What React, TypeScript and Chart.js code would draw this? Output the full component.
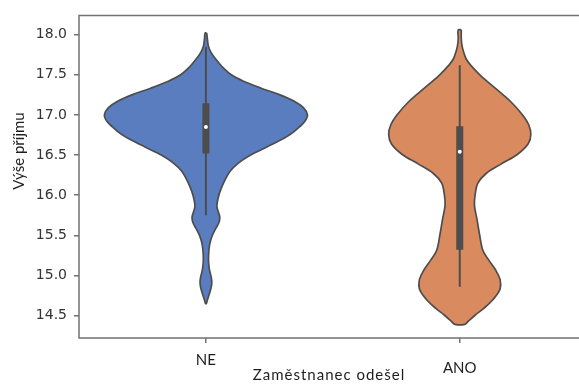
import { useEffect, useRef } from 'react';
import { Chart, registerables } from 'chart.js';

Chart.register(...registerables);

// Categories on the x axis (employee left: no / yes)
const categories = ['NE', 'ANO'];

// Income tick values on the y axis
const yTicks = [14.5, 15.0, 15.5, 16.0, 16.5, 17.0, 17.5, 18.0];

// Kernel density outline for "NE": income level and relative density (1 = widest)
const neLevels = [
  18.02, 17.95, 17.86, 17.78, 17.69, 17.6, 17.5, 17.42, 17.33, 17.25, 17.17, 17.09, 17.0,
  16.92, 16.85, 16.77, 16.69, 16.6, 16.5, 16.4, 16.3, 16.17, 16.05, 15.95, 15.86, 15.78,
  15.72, 15.65, 15.58, 15.49, 15.38, 15.27, 15.17, 15.07, 14.98, 14.92, 14.85, 14.77, 14.7,
  14.65,
];
const neDensity = [
  0.008, 0.014, 0.024, 0.05, 0.1, 0.16, 0.25, 0.37, 0.55, 0.73, 0.87, 0.96, 1.0,
  0.975, 0.92, 0.845, 0.74, 0.6, 0.44, 0.32, 0.24, 0.18, 0.14, 0.118, 0.108, 0.125,
  0.137, 0.125, 0.095, 0.06, 0.036, 0.027, 0.026, 0.035, 0.052, 0.058, 0.052, 0.034, 0.016,
  0.004,
];

// Kernel density outline for "ANO"
const anoLevels = [
  18.06, 17.95, 17.85, 17.78, 17.7, 17.62, 17.49, 17.33, 17.17, 17.0, 16.88, 16.76, 16.64,
  16.51, 16.39, 16.27, 16.15, 15.99, 15.87, 15.71, 15.51, 15.31, 15.19, 15.07, 14.95, 14.83,
  14.71, 14.59, 14.51, 14.43, 14.39,
];
const anoDensity = [
  0.015, 0.015, 0.024, 0.039, 0.062, 0.107, 0.205, 0.352, 0.498, 0.619, 0.678, 0.7, 0.674,
  0.57, 0.41, 0.26, 0.178, 0.15, 0.145, 0.168, 0.195, 0.228, 0.286, 0.352, 0.397, 0.397,
  0.335, 0.237, 0.156, 0.085, 0.049,
];

// Inner box statistics per category
const q1 = [16.52, 15.32];
const medians = [16.85, 16.54];
const q3 = [17.145, 16.86];
const whiskerLow = [15.75, 14.86];
const whiskerHigh = [17.85, 17.62];

const fillColors = ['#597DBF', '#D98B5F'];
const EDGE = '#4d4d4d';
const FRAME = '#727272';
const VIOLIN_WIDTH = 0.8;

function outline(pos: number, levels: number[], density: number[]) {
  const half = VIOLIN_WIDTH / 2;
  const right = levels.map((y, i) => ({ x: pos + half * density[i], y }));
  const left = levels.map((y, i) => ({ x: pos - half * density[i], y })).reverse();
  return [...right, ...left, right[0]];
}

const framePlugin = {
  id: 'frameAndLabels',
  afterDraw(chart: any) {
    const { ctx, chartArea, scales } = chart;
    const { left, top, bottom } = chartArea;
    const right = chart.width;
    ctx.save();
    ctx.strokeStyle = FRAME;
    ctx.lineWidth = 1.5;
    ctx.beginPath();
    ctx.moveTo(right, top);
    ctx.lineTo(left, top);
    ctx.lineTo(left, bottom);
    ctx.lineTo(right, bottom);
    ctx.stroke();

    ctx.fillStyle = '#1e1e1e';
    ctx.font = '15px Lato';
    ctx.textAlign = 'center';
    ctx.textBaseline = 'alphabetic';
    const baselines = [365, 372.5];
    categories.forEach((c, i) => {
      ctx.fillText(c, scales.x.getPixelForValue(i), baselines[i]);
    });
    ctx.letterSpacing = '1px';
    ctx.fillText('Zaměstnanec odešel', 329, 380);
    ctx.letterSpacing = '0px';

    ctx.translate(23.5, 151);
    ctx.rotate(-Math.PI / 2);
    ctx.fillText('Výše příjmu', 0, 0);
    ctx.restore();
  },
};

export default function App() {
  const canvasRef = useRef<HTMLCanvasElement>(null);

  useEffect(() => {
    const canvas = canvasRef.current;
    if (!canvas) return;

    const violins = [
      outline(0, neLevels, neDensity),
      outline(1, anoLevels, anoDensity),
    ];

    const datasets: any[] = [];
    violins.forEach((pts, i) => {
      datasets.push({
        label: categories[i],
        data: pts,
        showLine: true,
        fill: 'shape',
        backgroundColor: fillColors[i],
        borderColor: EDGE,
        borderWidth: 1.7,
        pointRadius: 0,
        tension: 0.35,
        order: 4,
      });
    });
    categories.forEach((_, i) => {
      datasets.push({
        data: [
          { x: i, y: whiskerLow[i] },
          { x: i, y: whiskerHigh[i] },
        ],
        showLine: true,
        borderColor: EDGE,
        borderWidth: 2,
        pointRadius: 0,
        order: 3,
      });
      datasets.push({
        data: [
          { x: i, y: q1[i] },
          { x: i, y: q3[i] },
        ],
        showLine: true,
        borderColor: EDGE,
        borderWidth: 7,
        borderCapStyle: 'butt',
        pointRadius: 0,
        order: 2,
      });
    });
    datasets.push({
      data: medians.map((y, i) => ({ x: i, y })),
      showLine: false,
      pointRadius: 2,
      pointBackgroundColor: '#ffffff',
      pointBorderWidth: 0,
      order: 1,
    });

    const chart = new Chart(canvas, {
      type: 'scatter',
      data: { datasets },
      options: {
        animation: false,
        responsive: false,
        events: [],
        layout: { padding: { top: 5, right: 0, bottom: 0, left: 0 } },
        plugins: { legend: { display: false }, tooltip: { enabled: false } },
        scales: {
          x: {
            type: 'linear',
            min: -0.5,
            max: 1.454,
            afterBuildTicks: (s: any) => {
              s.ticks = categories.map((_, i) => ({ value: i }));
            },
            afterFit: (s: any) => {
              s.height = 51;
            },
            ticks: { display: false },
            grid: {
              drawOnChartArea: false,
              drawTicks: true,
              tickLength: 5,
              color: FRAME,
              lineWidth: 1.5,
            },
            border: { display: false },
          },
          y: {
            type: 'linear',
            min: 14.22,
            max: 18.24,
            afterBuildTicks: (s: any) => {
              s.ticks = yTicks.map((v) => ({ value: v }));
            },
            afterFit: (s: any) => {
              s.width = 79;
            },
            ticks: {
              callback: (v: any) => Number(v).toFixed(1),
              font: { family: 'DejaVu Sans', size: 14 },
              color: '#333333',
              padding: 7,
            },
            grid: {
              drawOnChartArea: false,
              drawTicks: true,
              tickLength: 5,
              color: FRAME,
              lineWidth: 1.5,
            },
            border: { display: false },
          },
        },
      },
      plugins: [framePlugin],
    });

    return () => chart.destroy();
  }, []);

  return (
    <div style={{ position: 'fixed', left: 0, top: 0, width: 579, height: 389, background: '#fff' }}>
      <canvas ref={canvasRef} width={579} height={389} style={{ display: 'block' }} />
    </div>
  );
}
